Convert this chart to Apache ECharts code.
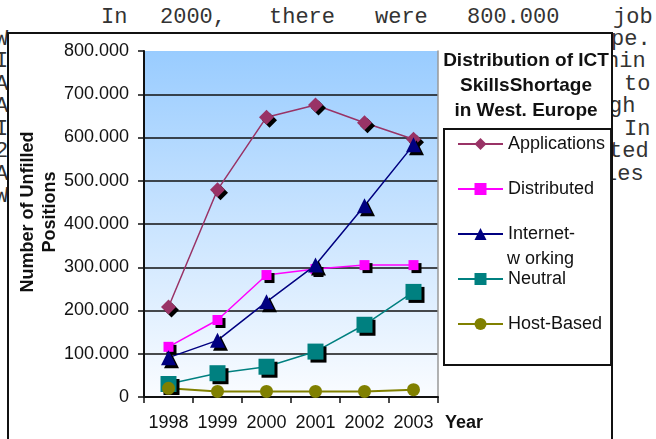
<!DOCTYPE html>
<html>
<head>
<meta charset="utf-8">
<script src="https://cdn.jsdelivr.net/npm/echarts@6/dist/echarts.min.js"></script>
<style>
  body { margin: 0; background: #fff; }
  #page { position: relative; width: 656px; height: 439px; overflow: hidden;
          font-family: 'Liberation Mono', 'Courier New', monospace; font-size: 22px; color: #333; }
  .t { position: absolute; white-space: pre; line-height: 22px; }
  #box { position: absolute; left: 7px; top: 32px; width: 602px; height: 420px;
         border: 2px solid #111; background: #fff; }
  #chart { position: absolute; left: 0; top: 0; width: 656px; height: 439px; }
</style>
</head>
<body>
<div id="page">
  <!-- text of the page behind the chart -->
  <span class="t" style="left:101px;top:7px">In</span>
  <span class="t" style="left:160px;top:7px">2000,</span>
  <span class="t" style="left:269px;top:7px">there</span>
  <span class="t" style="left:375px;top:7px">were</span>
  <span class="t" style="left:467px;top:7px">800.000</span>
  <span class="t" style="left:613px;top:7px">job</span>
  <span class="t" style="left:-5px;top:29px">W</span><span class="t" style="left:611px;top:29px">pe.</span>
  <span class="t" style="left:-5px;top:51px">I</span><span class="t" style="left:606px;top:51px">hin</span>
  <span class="t" style="left:-5px;top:74px">A</span><span class="t" style="left:624px;top:74px">to</span>
  <span class="t" style="left:-5px;top:96px">A</span><span class="t" style="left:609px;top:96px">gh</span>
  <span class="t" style="left:-5px;top:119px">I</span><span class="t" style="left:624px;top:119px">In</span>
  <span class="t" style="left:-5px;top:141px">2</span><span class="t" style="left:609px;top:141px">ted</span>
  <span class="t" style="left:-5px;top:164px">A</span><span class="t" style="left:604px;top:164px">les</span>
  <span class="t" style="left:-5px;top:186px">W</span>
  <div id="box"></div>
  <div id="chart"></div>
</div>
<script>
// 数据
const years = ['1998', '1999', '2000', '2001', '2002', '2003'];
const applications = [208000, 479000, 647000, 675000, 634000, 596000];
const distributed = [116000, 178000, 282000, 296000, 305000, 305000];
const internetworking = [91000, 131000, 220000, 305000, 442000, 583000];
const neutral = [30000, 55000, 70000, 105000, 167000, 243000];
const hostBased = [20000, 13000, 13000, 13000, 13000, 17000];

const FONT = "'Liberation Sans', Arial, sans-serif";
const TXT = '#111';
const shadow = { shadowColor: '#000', shadowBlur: 0, shadowOffsetX: 3, shadowOffsetY: 3 };

function lineSeries(name, data, color, symbol, size, withShadow) {
  return {
    name: name,
    type: 'line',
    data: data,
    symbol: symbol,
    symbolSize: size,
    showAllSymbol: true,
    lineStyle: { color: color, width: 1.5 },
    itemStyle: Object.assign({ color: color, borderWidth: 0 }, withShadow ? shadow : {}),
    emphasis: { disabled: true }
  };
}

const chart = echarts.init(document.getElementById('chart'));
chart.setOption({
  animation: false,
  textStyle: { fontFamily: FONT },
  title: {
    text: 'Distribution of ICT\nSkillsShortage\nin West. Europe',
    left: 521, top: 43,
    textAlign: 'center',
    textStyle: { fontSize: 19, fontWeight: 'bold', lineHeight: 25, color: TXT, fontFamily: FONT }
  },
  legend: {
    orient: 'vertical',
    left: 444, top: 129,
    padding: [6, 6, 32, 13],
    itemGap: 27,
    itemWidth: 45, itemHeight: 15,
    borderColor: '#111', borderWidth: 2,
    backgroundColor: '#fff',
    textStyle: { fontSize: 18, lineHeight: 18, color: TXT, fontFamily: FONT },
    itemStyle: { shadowColor: 'transparent', shadowOffsetX: 0, shadowOffsetY: 0 },
    formatter: n => n === 'Internet-working' ? 'Internet-' : n
  },
  graphic: [{
    type: 'text', left: 507, top: 250, z: 100,
    style: { text: 'w orking', fontSize: 18, fill: TXT, fontFamily: FONT }
  }],
  grid: {
    left: 144, top: 51, width: 294, height: 346,
    outerBoundsMode: 'none',
    show: true, borderWidth: 0,
    backgroundColor: new echarts.graphic.LinearGradient(0, 0, 0, 1, [
      { offset: 0, color: '#99CCFF' },
      { offset: 1, color: '#FAFCFF' }
    ])
  },
  xAxis: {
    type: 'category',
    data: years,
    boundaryGap: true,
    name: 'Year',
    nameLocation: 'end',
    nameGap: 7,
    nameMoveOverlap: false,
    nameTextStyle: { fontSize: 18, fontWeight: 'bold', color: TXT, align: 'left', verticalAlign: 'top', padding: [17, 0, 0, 0] },
    axisLine: { show: true, lineStyle: { color: '#111', width: 2 } },
    axisTick: { show: true, alignWithLabel: false, length: 6, lineStyle: { color: '#111', width: 1.5 } },
    axisLabel: { fontSize: 18, color: TXT, margin: 17, interval: 0 },
    splitLine: { show: false }
  },
  yAxis: [{
    type: 'value',
    min: 0, max: 800000, interval: 100000,
    name: 'Number of Unfilled\nPositions',
    nameLocation: 'middle',
    nameGap: 83,
    nameMoveOverlap: false,
    nameTextStyle: { fontSize: 18, fontWeight: 'bold', lineHeight: 22, color: TXT, padding: [0, 0, 0, 24] },
    axisLine: { show: true, lineStyle: { color: '#111', width: 2 } },
    axisTick: { show: true, inside: false, length: 6, lineStyle: { color: '#111', width: 1.5 } },
    axisLabel: {
      fontSize: 18, color: TXT, margin: 15,
      formatter: v => v === 0 ? '0' : (v / 1000) + '.000'
    },
    splitLine: { show: true, showMaxLine: false, lineStyle: { color: '#111', width: 1.5 } }
  }, {
    type: 'value',
    position: 'right',
    min: 0, max: 800000, interval: 100000,
    axisLine: { show: true, lineStyle: { color: '#999', width: 1.5 } },
    axisTick: { show: false },
    axisLabel: { show: false },
    splitLine: { show: false }
  }],
  series: [
    lineSeries('Applications', applications, '#993366', 'diamond', 15, true),
    lineSeries('Distributed', distributed, '#FF00FF', 'rect', 10, true),
    lineSeries('Internet-working', internetworking, '#000080', 'triangle', 15, true),
    lineSeries('Neutral', neutral, '#008080', 'rect', 16, true),
    Object.assign(lineSeries('Host-Based', hostBased, '#808000', 'circle', 13, false),
      { lineStyle: { color: '#808000', width: 2 } })
  ]
});
</script>
</body>
</html>
